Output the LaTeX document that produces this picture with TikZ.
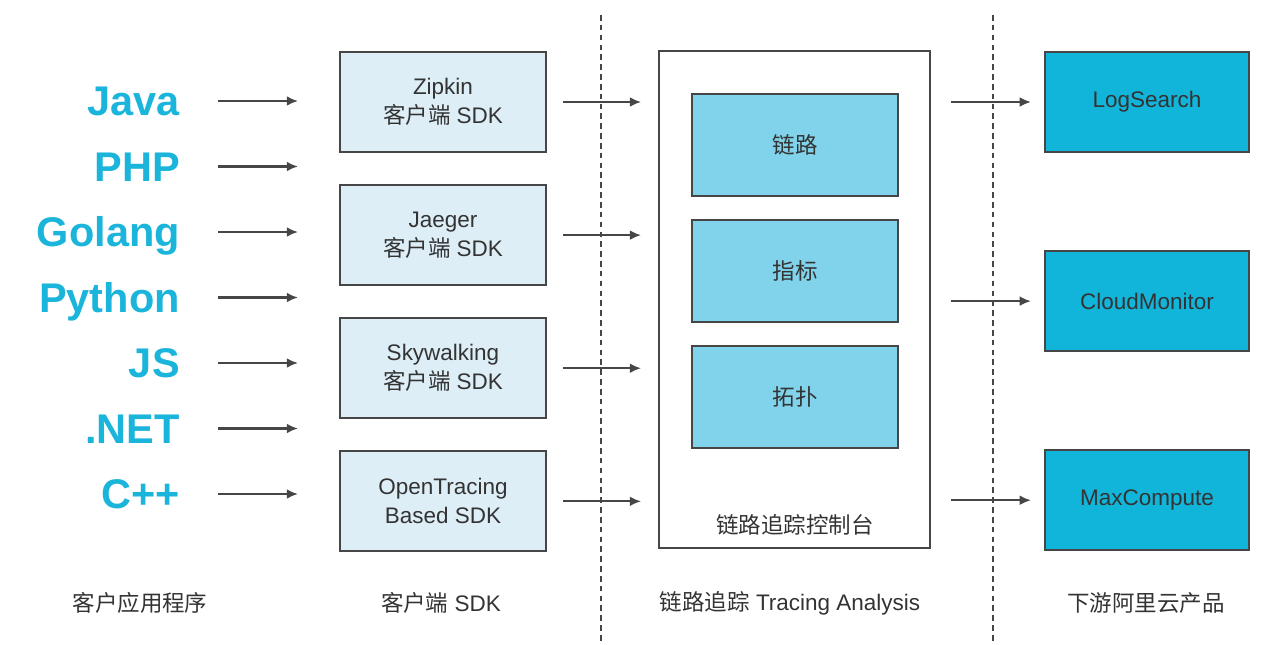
\documentclass[tikz,border=0pt]{standalone}
\usepackage{fontspec}
\setmainfont{Liberation Sans}
\newfontfamily\cjk{Noto Sans CJK SC}
\definecolor{langblue}{RGB}{27,180,218}
\definecolor{sdkfill}{RGB}{221,238,247}
\definecolor{metricfill}{RGB}{128,211,234}
\definecolor{prodfill}{RGB}{18,181,218}
\definecolor{edgegray}{RGB}{70,70,70}
\usetikzlibrary{arrows.meta,positioning}

\begin{document}
\begin{tikzpicture}[node distance=0.775cm, every node/.style={font=\fontsize{16}{20.5}\selectfont,align=center,text=black!80},
  lang/.style={anchor=east,inner sep=0pt,text height=21pt,text depth=0pt,font=\fontsize{29.5}{31}\selectfont\bfseries,text=langblue},
  sdkbox/.style={draw=edgegray,line width=1.5pt,fill=sdkfill,minimum width=5.15cm,minimum height=2.5cm},
  metricbox/.style={draw=edgegray,line width=1.5pt,fill=metricfill,minimum width=5.15cm,minimum height=2.55cm},
  prodbox/.style={draw=edgegray,line width=1.5pt,fill=prodfill,minimum width=5.1cm,minimum height=2.5cm},
  arr/.style={edgegray,line width=1.5pt,-{Latex[length=8pt,width=7pt]}},
  divider/.style={edgegray,line width=0.9pt,dash pattern=on 4pt off 3pt}]
\useasboundingbox (0,0) rectangle (32,-16.1);
% client languages
\foreach \lang [count=\i] in {Java,PHP,Golang,Python,JS,.NET,C++} {
  \node[lang] (lang\i) at (4.5,{-2.525-(\i-1)*1.6375}) {\lang};
  \draw[arr] ([xshift=0.95cm]lang\i.east) -- ++(2cm,0);
}
% client SDKs
\node[sdkbox] (zipkin) at (11.075,-2.55) {Zipkin\\{\cjk 客户端} SDK};
\node[sdkbox,below=of zipkin] (jaeger) {Jaeger\\{\cjk 客户端} SDK};
\node[sdkbox,below=of jaeger] (skywalk) {Skywalking\\{\cjk 客户端} SDK};
\node[sdkbox,below=of skywalk] (otsdk) {OpenTracing\\Based SDK};
\foreach \n in {zipkin,jaeger,skywalk,otsdk}
  \draw[arr] ([xshift=0.4cm]\n.east) -- ++(1.95cm,0);
% tracing console
\node[draw=edgegray,line width=1.5pt,minimum width=6.775cm,minimum height=12.425cm] (console) at (19.8625,-7.4875) {};
\node[metricbox] (trace) at (19.875,-3.625) {\cjk 链路};
\node[metricbox,below=0.55cm of trace] (metric) {\cjk 指标};
\node[metricbox,below=0.55cm of metric] (topo) {\cjk 拓扑};
\node (consolelbl) at (19.875,-13.125) {\cjk 链路追踪控制台};
% downstream products
\node[prodbox] (logsearch) at (28.675,-2.55) {LogSearch};
\node[prodbox,below=2.425cm of logsearch] (cloudmon) {CloudMonitor};
\node[prodbox,below=2.425cm of cloudmon] (maxcomp) {MaxCompute};
\foreach \n in {logsearch,cloudmon,maxcomp}
  \draw[arr] ([xshift=-2.325cm]\n.west) -- ([xshift=-0.325cm]\n.west);
% dividers
\draw[divider] (15.025,-0.375) -- (15.025,-16.1);
\draw[divider] (24.825,-0.375) -- (24.825,-16.1);
% column titles
\node (appslbl) at (3.5,-15.075) {\cjk 客户应用程序};
\node (sdklbl) at (11.025,-15.075) {{\cjk 客户端} SDK};
\node (tracelbl) at (19.75,-15.075) {{\cjk 链路追踪} Tracing Analysis};
\node (downlbl) at (28.65,-15.075) {\cjk 下游阿里云产品};
\end{tikzpicture}
\end{document}
